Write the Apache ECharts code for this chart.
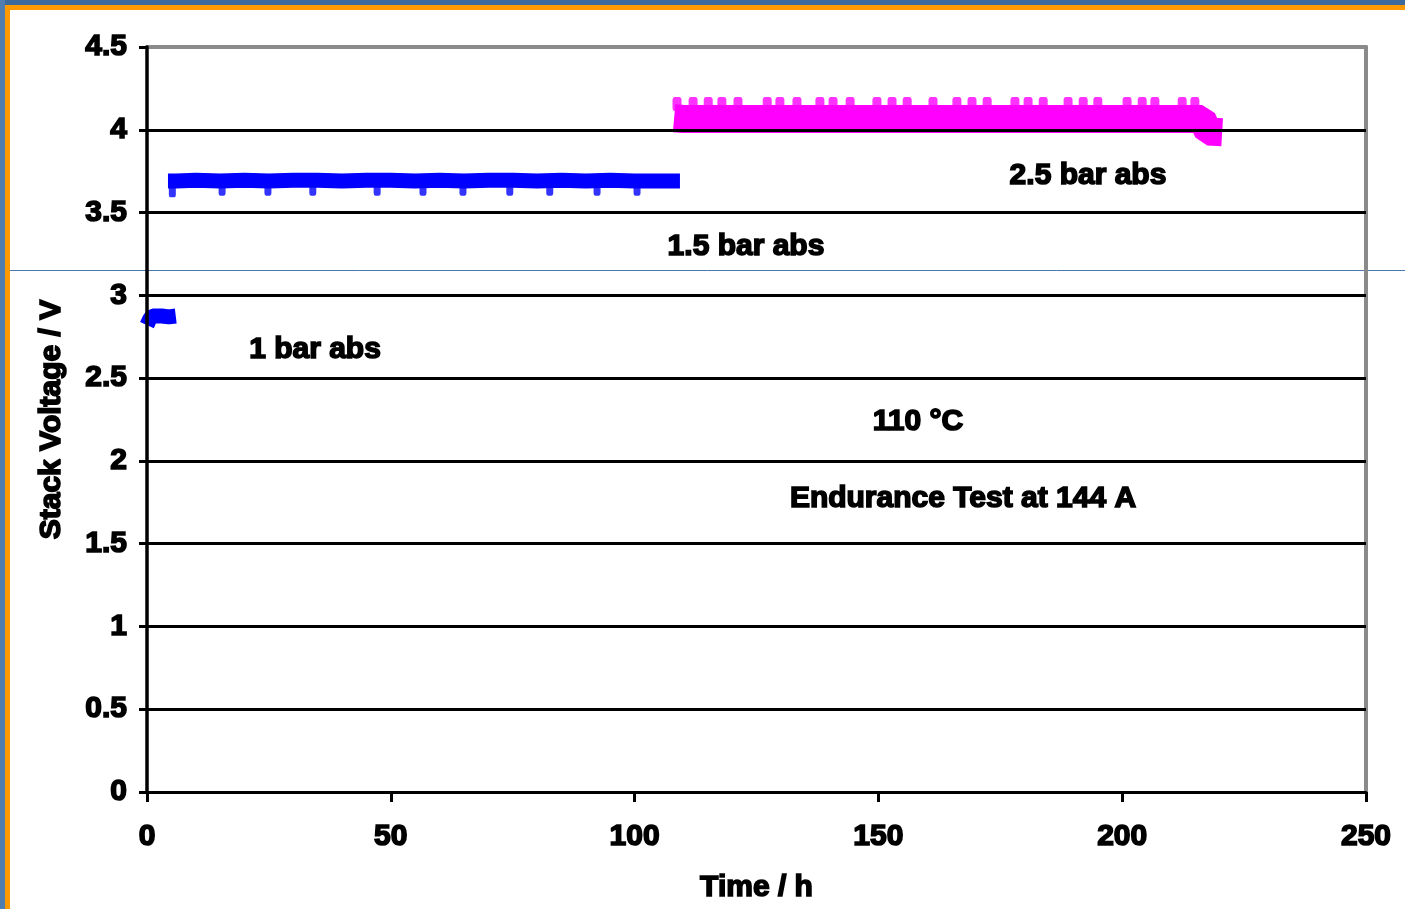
<!DOCTYPE html>
<html>
<head>
<meta charset="utf-8">
<script src="https://cdn.jsdelivr.net/npm/echarts@6/dist/echarts.min.js"></script>
<style>
html,body{margin:0;padding:0;background:#fff;}
#chart{width:1405px;height:909px;}
</style>
</head>
<body>
<div id="chart"></div>
<script>
// ---- Data ----
var xTicks = [0, 50, 100, 150, 200, 250];
var yTicks = ['0', '0.5', '1', '1.5', '2', '2.5', '3', '3.5', '4', '4.5'];

// 1 bar abs
var bar1Time = [0, 0.6, 1.2, 3, 4.5, 5.9];
var bar1Volt = [2.82, 2.86, 2.875, 2.875, 2.87, 2.875];

// 1.5 bar abs
var bar15Time = [4.3, 6, 10, 15, 20, 25, 30, 35, 40, 45, 50, 55, 60, 65, 70, 75, 80, 85, 90, 95, 100, 105, 109.3];
var bar15Volt = [3.69, 3.69, 3.695, 3.69, 3.695, 3.69, 3.695, 3.695, 3.69, 3.695, 3.695, 3.69, 3.695, 3.69, 3.695, 3.695, 3.69, 3.695, 3.69, 3.695, 3.69, 3.69, 3.69];
var bar15DipTime = [5.2, 15.4, 24.8, 34.0, 47.2, 56.6, 64.8, 74.4, 82.6, 92.3, 100.5];
var bar15DipVolt = [3.625, 3.635, 3.635, 3.635, 3.635, 3.635, 3.635, 3.635, 3.635, 3.635, 3.635];

// 2.5 bar abs
var bar25Time = [108.1, 110, 115, 120, 125, 130, 135, 140, 145, 150, 155, 160, 165, 170, 175, 180, 185, 190, 195, 200, 205, 210, 215, 216.4, 217.6, 220.5];
var bar25Volt = [4.07, 4.065, 4.065, 4.065, 4.065, 4.065, 4.065, 4.065, 4.065, 4.065, 4.065, 4.065, 4.065, 4.065, 4.065, 4.065, 4.065, 4.065, 4.065, 4.065, 4.065, 4.065, 4.065, 4.065, 3.99, 3.985];
var bar25PeakTime = [108.7, 112.0, 115.1, 117.9, 121.2, 127.2, 129.8, 133.3, 138.0, 140.7, 144.2, 149.7, 152.8, 155.9, 161.2, 166.1, 169.2, 172.3, 178.0, 180.7, 183.8, 188.9, 192.0, 195.0, 201.0, 204.1, 206.7, 212.3, 214.9];
var bar25PeakVolt = [4.155, 4.155, 4.155, 4.155, 4.155, 4.155, 4.155, 4.155, 4.155, 4.155, 4.155, 4.155, 4.155, 4.155, 4.155, 4.155, 4.155, 4.155, 4.155, 4.155, 4.155, 4.155, 4.155, 4.155, 4.155, 4.155, 4.155, 4.155, 4.155];

function pairs(xs, ys) { return xs.map(function (x, i) { return [x, ys[i]]; }); }

var FONT = 'Liberation Sans';
var txt = { fontFamily: FONT, fontWeight: 'bold', fontSize: 30, color: '#000', textBorderColor: '#000', textBorderWidth: 1.6 };

var chart = echarts.init(document.getElementById('chart'), null, { renderer: 'canvas' });

function gText(t, x, y) {
  return {
    type: 'text', x: x, y: y, z: 50,
    style: {
      text: t, fill: '#000', stroke: '#000', lineWidth: 1.6,
      font: 'bold 30px "' + FONT + '"',
      textAlign: 'center', textVerticalAlign: 'middle'
    }
  };
}

var option = {
  animation: false,
  backgroundColor: '#fff',
  grid: { left: 147, right: 39, top: 47, bottom: 117, show: false },
  xAxis: [{
    type: 'value', min: 0, max: 250, interval: 50, z: 5,
    name: 'Time / h', nameLocation: 'middle', nameGap: 81,
    nameTextStyle: txt,
    axisLine: { show: true, onZero: false, lineStyle: { color: '#000', width: 3 } },
    axisTick: { show: true, length: 10, lineStyle: { color: '#000', width: 3 } },
    axisLabel: Object.assign({ margin: 30, formatter: function (v) { return String(xTicks[xTicks.indexOf(v)]); } }, txt),
    splitLine: { show: false }
  }, {
    type: 'value', position: 'top', min: 0, max: 250, interval: 50, z: 1,
    axisLine: { show: true, onZero: false, lineStyle: { color: '#8a8a8a', width: 4 } },
    axisTick: { show: false }, axisLabel: { show: false }, splitLine: { show: false }
  }],
  yAxis: [{
    type: 'value', min: 0, max: 4.5, interval: 0.5, z: 5,
    name: 'Stack Voltage / V', nameLocation: 'middle', nameGap: 80,
    nameTextStyle: txt,
    axisLine: { show: true, onZero: false, lineStyle: { color: '#000', width: 3.5 } },
    axisTick: { show: true, length: 8, lineStyle: { color: '#000', width: 3 } },
    axisLabel: Object.assign({ margin: 20, formatter: function (v) { return yTicks[Math.round(v / 0.5)]; } }, txt),
    splitLine: { show: true, showMinLine: false, showMaxLine: false, lineStyle: { color: '#000', width: 3 } }
  }, {
    type: 'value', position: 'right', min: 0, max: 4.5, interval: 0.5, z: 1,
    axisLine: { show: true, onZero: false, lineStyle: { color: '#8a8a8a', width: 4 } },
    axisTick: { show: false }, axisLabel: { show: false }, splitLine: { show: false }
  }],
  series: [
    { name: '1 bar abs', type: 'line', data: pairs(bar1Time, bar1Volt), showSymbol: false, symbol: 'none',
      lineStyle: { color: '#0000ff', width: 15, cap: 'butt', join: 'bevel' }, z: 3 },
    { name: '1.5 bar abs', type: 'line', data: pairs(bar15Time, bar15Volt), showSymbol: false, symbol: 'none',
      lineStyle: { color: '#0000ff', width: 15, cap: 'butt', join: 'bevel' }, z: 3 },
    { name: '1.5 bar abs dips', type: 'scatter', data: pairs(bar15DipTime, bar15DipVolt), symbol: 'roundRect', symbolSize: [7, 11],
      itemStyle: { color: '#0000ff' }, z: 3 },
    { name: '2.5 bar abs', type: 'line', data: pairs(bar25Time, bar25Volt), showSymbol: false, symbol: 'none',
      lineStyle: { color: '#ff00ff', width: 28, cap: 'butt', join: 'bevel' }, z: 3 },
    { name: '2.5 bar abs peaks', type: 'scatter', data: pairs(bar25PeakTime, bar25PeakVolt), symbol: 'roundRect', symbolSize: [9, 14],
      itemStyle: { color: '#ff00ff' }, z: 3 }
  ],
  graphic: [
    { type: 'rect', shape: { x: 0, y: 0, width: 1405, height: 5 }, style: { fill: '#3d6a9c' }, z: 100 },
    { type: 'rect', shape: { x: 0, y: 0, width: 5, height: 909 }, style: { fill: '#4f7db0' }, z: 100 },
    { type: 'rect', shape: { x: 5, y: 5, width: 1400, height: 5 }, style: { fill: '#ff9900' }, z: 100 },
    { type: 'rect', shape: { x: 5, y: 5, width: 5, height: 904 }, style: { fill: '#ff9900' }, z: 100 },
    { type: 'line', shape: { x1: 10, y1: 270.5, x2: 1405, y2: 270.5 }, style: { stroke: '#4a78ad', lineWidth: 1 }, z: -1 },
    gText('1 bar abs', 315, 350),
    gText('1.5 bar abs', 746, 247),
    gText('2.5 bar abs', 1088, 176),
    gText('110 °C', 918, 422),
    gText('Endurance Test at 144 A', 963, 499)
  ]
};
chart.setOption(option);
</script>
</body>
</html>
